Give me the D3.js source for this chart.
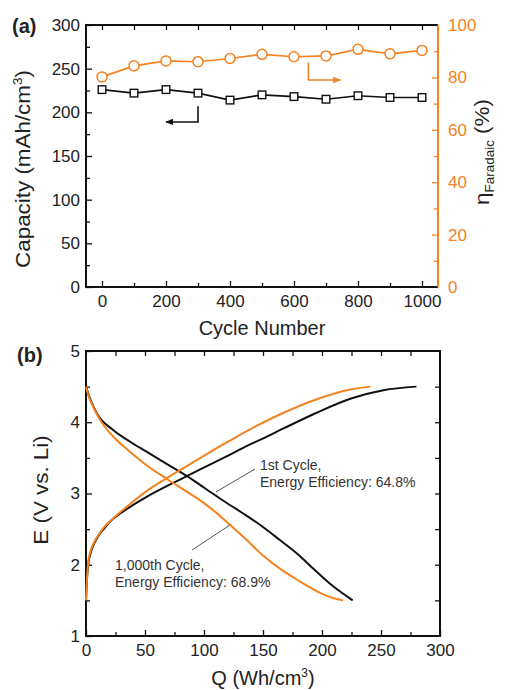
<!DOCTYPE html>
<html>
  <head>
    <meta charset="utf-8">
    <title>Capacity and cycling</title>
    <style>
      body{ margin:0; background:#fff; }
      svg{ display:block; font-family: Arial, "Liberation Sans", sans-serif; }
      .tk text{ font-size:17px; fill:#222; }
      .tk line{ stroke:#111; stroke-width:1.3; }
      .tk path{ display:none; }
    </style>
  </head>
  <body>
    <svg id="chart" width="506" height="690"></svg>
  </body>
  <script src="https://d3js.org/d3.v7.min.js"></script>
  <script>
    // panel (a): cycling data
    var cycles    = [0,100,200,300,400,500,600,700,800,900,1000]
    var capacity  = [226,222,226,222,214,220,218,215,219,217,217]
    var faradaic  = [80.2,84.4,86.3,86.0,87.2,88.8,87.9,88.2,90.7,89.0,90.3]

    // panel (b): voltage profiles [Q, E]
    var charge1st = [[0,1.5],[1,1.85],[2,2.02],[4,2.17],[7,2.3],[11,2.42],[15,2.5],[20,2.6],[30,2.73],[40,2.84],[51,2.95],[68,3.1],[85,3.24],[108,3.43],[125,3.57],[139,3.69],[147,3.75],[167,3.91],[195,4.13],[224,4.33],[252,4.45],[280,4.5]]
    var discharge1st = [[0,4.5],[3,4.35],[9,4.13],[23,3.89],[37,3.73],[51,3.59],[68,3.42],[85,3.25],[102,3.06],[119,2.87],[136,2.69],[150,2.53],[164,2.35],[180,2.14],[193,1.94],[210,1.69],[226,1.5]]
    var charge1000 = [[0,1.5],[1,1.85],[2,2.05],[4,2.2],[7,2.32],[11,2.43],[15,2.52],[23,2.65],[35,2.82],[51,3.03],[68,3.21],[85,3.38],[108,3.61],[125,3.77],[139,3.9],[147,3.97],[167,4.13],[195,4.32],[224,4.46],[241,4.5]]
    var discharge1000 = [[0,4.5],[2,4.38],[6,4.22],[12,4.03],[23,3.8],[37,3.59],[51,3.4],[68,3.21],[85,3.03],[102,2.84],[116,2.65],[122,2.56],[136,2.35],[150,2.13],[164,1.95],[178,1.8],[198,1.61],[210,1.53],[218,1.5]]

    var orange = "#f5821f"
    var svg = d3.select("#chart")
    var fmt = d3.format("d")

    function ticks(g, axis){
      g.attr("class","tk").call(axis)
    }

    // ---------- panel (a) ----------
    var xa = d3.scaleLinear().domain([-50,1050]).range([86,438])
    var ya = d3.scaleLinear().domain([0,300]).range([287,25])
    var yr = d3.scaleLinear().domain([0,100]).range([287,25])

    var a = svg.append("g")
    ticks(a.append("g").attr("transform","translate(0,287)"),
      d3.axisBottom(xa).tickValues(d3.range(0,1001,200)).tickFormat(fmt).tickSize(-6).tickPadding(8))
    ticks(a.append("g").attr("transform","translate(0,287)"),
      d3.axisBottom(xa).tickValues(d3.range(100,1000,200)).tickSize(-4).tickFormat(""))
    ticks(a.append("g").attr("transform","translate(0,25)"),
      d3.axisTop(xa).tickValues(d3.range(0,1001,100)).tickSize(-5).tickFormat(""))
    ticks(a.append("g").attr("transform","translate(86,0)"),
      d3.axisLeft(ya).tickValues(d3.range(0,301,50)).tickFormat(fmt).tickSize(-6).tickPadding(6))
    ticks(a.append("g").attr("transform","translate(86,0)"),
      d3.axisLeft(ya).tickValues(d3.range(25,300,50)).tickSize(-4).tickFormat(""))
    var ra = a.append("g").attr("transform","translate(438,0)")
    ticks(ra, d3.axisRight(yr).tickValues(d3.range(0,101,20)).tickFormat(fmt).tickSize(-6).tickPadding(10))
    var ra2 = a.append("g").attr("transform","translate(438,0)")
    ticks(ra2, d3.axisRight(yr).tickValues(d3.range(10,100,20)).tickSize(-4).tickFormat(""))
    ra.selectAll("line").style("stroke",orange)
    ra2.selectAll("line").style("stroke",orange)
    ra.selectAll("text").style("fill",orange)

    // frame
    a.append("path").attr("d","M438,25H86V287H438").attr("fill","none").attr("stroke","#111").attr("stroke-width",2)
    a.append("line").attr("x1",438).attr("x2",438).attr("y1",25).attr("y2",287)
      .attr("stroke",orange).attr("stroke-width",2)

    // faradaic series
    var effData = cycles.map(function(c,i){ return [c,faradaic[i]] })
    a.append("path").datum(effData).attr("fill","none").attr("stroke",orange).attr("stroke-width",1.6)
      .attr("d",d3.line().x(function(d){return xa(d[0])}).y(function(d){return yr(d[1])}))
    a.selectAll("circle.eff").data(effData).enter().append("circle")
      .attr("cx",function(d){return xa(d[0])}).attr("cy",function(d){return yr(d[1])})
      .attr("r",5).attr("fill","#fff").attr("stroke",orange).attr("stroke-width",1.5)

    // capacity series
    var capData = cycles.map(function(c,i){ return [c,capacity[i]] })
    a.append("path").datum(capData).attr("fill","none").attr("stroke","#111").attr("stroke-width",1.6)
      .attr("d",d3.line().x(function(d){return xa(d[0])}).y(function(d){return ya(d[1])}))
    a.selectAll("rect.cap").data(capData).enter().append("rect")
      .attr("x",function(d){return xa(d[0])-3.8}).attr("y",function(d){return ya(d[1])-3.8})
      .attr("width",7.6).attr("height",7.6).attr("fill","#fff").attr("stroke","#111").attr("stroke-width",1.4)

    // arrows
    var defs = svg.append("defs")
    ;[["ahBlack","#111"],["ahOrange",orange]].forEach(function(m){
      defs.append("marker").attr("id",m[0]).attr("viewBox","0 0 10 10").attr("refX",9).attr("refY",5)
        .attr("markerWidth",5).attr("markerHeight",5).attr("orient","auto-start-reverse")
        .append("path").attr("d","M0,1L10,5L0,9Z").attr("fill",m[1])
    })
    a.append("path").attr("fill","none").attr("stroke","#111").attr("stroke-width",1.6)
      .attr("d","M"+xa(300)+","+ya(207)+"V"+ya(189)+"H"+xa(200))
      .attr("marker-end","url(#ahBlack)")
    a.append("path").attr("fill","none").attr("stroke",orange).attr("stroke-width",1.6)
      .attr("d","M"+xa(645)+","+yr(85.8)+"V"+yr(79)+"H"+xa(745))
      .attr("marker-end","url(#ahOrange)")

    // titles
    a.append("text").attr("x",12).attr("y",33).attr("font-size",20).attr("font-weight","bold").attr("fill","#222").text("(a)")
    a.append("text").attr("x",262).attr("y",335).attr("text-anchor","middle").attr("font-size",20).attr("fill","#222").text("Cycle Number")
    var t1 = a.append("text").attr("text-anchor","middle").attr("font-size",20).attr("fill","#222")
      .attr("transform","translate(30,169) rotate(-90) scale(1.12,1)")
    t1.append("tspan").text("Capacity (mAh/cm")
    t1.append("tspan").attr("font-size",12).attr("dy",-8).text("3")
    t1.append("tspan").attr("dy",8).text(")")
    var t2 = a.append("text").attr("text-anchor","middle").attr("font-size",20).attr("fill","#222")
      .attr("transform","translate(489,152) rotate(-90) scale(1.12,1)")
    t2.append("tspan").text("η")
    t2.append("tspan").attr("font-size",12).attr("dy",5).text("Faradaic")
    t2.append("tspan").attr("dy",-5).text(" (%)")

    // ---------- panel (b) ----------
    var xb = d3.scaleLinear().domain([0,300]).range([86,440])
    var yb = d3.scaleLinear().domain([1,5]).range([636,351])

    var b = svg.append("g")
    ticks(b.append("g").attr("transform","translate(0,636)"),
      d3.axisBottom(xb).tickValues(d3.range(0,301,50)).tickFormat(fmt).tickSize(-6).tickPadding(8))
    ticks(b.append("g").attr("transform","translate(0,636)"),
      d3.axisBottom(xb).tickValues(d3.range(25,300,50)).tickSize(-4).tickFormat(""))
    ticks(b.append("g").attr("transform","translate(0,351)"),
      d3.axisTop(xb).tickValues(d3.range(25,300,25)).tickSize(-5).tickFormat(""))
    ticks(b.append("g").attr("transform","translate(86,0)"),
      d3.axisLeft(yb).tickValues([1,2,3,4,5]).tickFormat(fmt).tickSize(-6).tickPadding(6))
    ticks(b.append("g").attr("transform","translate(86,0)"),
      d3.axisLeft(yb).tickValues([1.5,2.5,3.5,4.5]).tickSize(-4).tickFormat(""))
    ticks(b.append("g").attr("transform","translate(440,0)"),
      d3.axisRight(yb).tickValues(d3.range(1.5,5,0.5)).tickSize(-5).tickFormat(""))
    b.append("rect").attr("x",86).attr("y",351).attr("width",354).attr("height",285)
      .attr("fill","none").attr("stroke","#111").attr("stroke-width",2)

    var vline = d3.line().curve(d3.curveMonotoneX)
      .x(function(d){return xb(d[0])}).y(function(d){return yb(d[1])})
    ;[[charge1st,"#111"],[discharge1st,"#111"],[charge1000,orange],[discharge1000,orange]].forEach(function(s){
      b.append("path").datum(s[0]).attr("fill","none").attr("stroke",s[1]).attr("stroke-width",2).attr("d",vline)
    })

    // annotations
    b.append("line").attr("x1",216).attr("y1",492).attr("x2",255).attr("y2",469).attr("stroke","#555").attr("stroke-width",1)
    b.append("line").attr("x1",192).attr("y1",550).attr("x2",230).attr("y2",525).attr("stroke","#555").attr("stroke-width",1)
    var n1 = b.append("text").attr("font-size",14).attr("fill","#333")
    n1.append("tspan").attr("x",260).attr("y",470).text("1st Cycle,")
    n1.append("tspan").attr("x",260).attr("y",487).text("Energy Efficiency: 64.8%")
    var n2 = b.append("text").attr("font-size",14).attr("fill","#333")
    n2.append("tspan").attr("x",115).attr("y",570).text("1,000th Cycle,")
    n2.append("tspan").attr("x",115).attr("y",587).text("Energy Efficiency: 68.9%")

    b.append("text").attr("x",17).attr("y",362).attr("font-size",20).attr("font-weight","bold").attr("fill","#222").text("(b)")
    var t3 = b.append("text").attr("x",0).attr("y",0).attr("text-anchor","middle").attr("font-size",20).attr("fill","#222")
      .attr("transform","translate(263,685)")
    t3.append("tspan").text("Q (Wh/cm")
    t3.append("tspan").attr("font-size",12).attr("dy",-8).text("3")
    t3.append("tspan").attr("dy",8).text(")")
    b.append("text").attr("text-anchor","middle").attr("font-size",20).attr("fill","#222")
      .attr("transform","translate(48,490) rotate(-90) scale(1.12,1)").text("E (V vs. Li)")
  </script>
</html>
